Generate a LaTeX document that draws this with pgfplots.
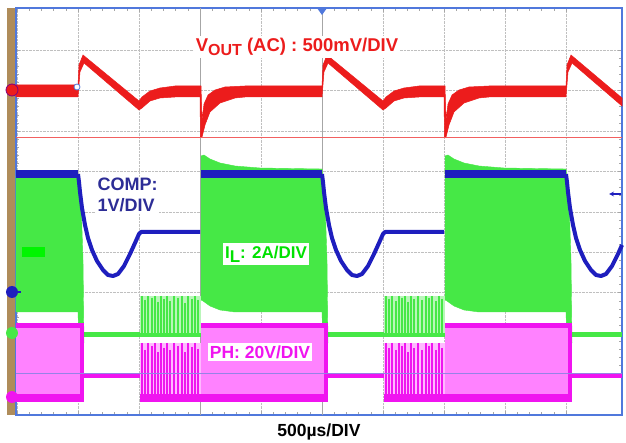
\documentclass[border=0pt]{standalone}
\usepackage{pgfplots}
\pgfplotsset{compat=1.18}
\usepackage{fontspec}
\setmainfont{Liberation Sans}

\definecolor{vred}{RGB}{236,28,28}
\definecolor{cblue}{RGB}{30,30,190}
\definecolor{clab}{RGB}{45,45,150}
\definecolor{ilg}{RGB}{70,232,70}
\definecolor{iltext}{RGB}{0,225,0}
\definecolor{ilbox}{RGB}{0,245,0}
\definecolor{ilglight}{RGB}{185,246,185}
\definecolor{phm}{RGB}{240,20,240}
\definecolor{phpink}{RGB}{255,130,255}
\definecolor{phlight}{RGB}{255,185,255}
\definecolor{frameblue}{RGB}{80,120,220}
\definecolor{strip}{RGB}{175,140,90}
\definecolor{cursorp}{RGB}{150,130,230}

\begin{document}
\begin{tikzpicture}
% page = 626 x 443, axis box 606 x 407 at (0,0)
\path[use as bounding box] (-16pt,-28pt) rectangle (610pt,415pt);
\fill[strip] (-9pt,0pt) rectangle (-1pt,407pt);

\begin{axis}[
    scale only axis,
    width=606pt, height=407pt,
    xmin=16, xmax=622, ymin=8, ymax=415,
    y dir=reverse,
    clip=false,
    axis background/.style={fill=white},
    xtick={17,78,139,200,261,322,383,444,505,566},
    ytick={50.05,90.5,130.95,171.4,211.85,252.3,292.75,333.2,373.65},
    xticklabels={}, yticklabels={},
    minor x tick num=4, minor y tick num=4,
    grid=major,
    major grid style={densely dotted, gray!50, line width=0.5pt},
    tick align=inside, xtick pos=both, ytick pos=both,
    major tick length=4pt, minor tick length=3pt,
    tick style={gray!70, line width=0.5pt},
    axis line style={draw=frameblue, line width=1.2pt},
    unbounded coords=jump,
]

% cursors behind the traces
\addplot[gray!70, line width=0.6pt] coordinates {(200,8) (200,415)};
\addplot[gray!70, line width=0.6pt] coordinates {(322,8) (322,415)};

% VOUT (AC) envelope
\addplot[fill=vred, draw=vred, line width=0.5pt] coordinates {
  (16,85) (78,85) (79,65) (83,55) (139,101) (142,97) (150,91) (160,88) (175,86)
  (201,86) (202,120) (204,104) (208,95) (215,90) (225,87) (245,86)
  (322,86) (323,65) (327,55) (383,101) (386,97) (394,91) (404,88) (419,86)
  (445,86) (446,120) (448,104) (452,95) (459,90) (469,87) (489,86)
  (566,86) (567,65) (571,55) (622,98)
  (622,106) (572,63) (568,72) (566,97)
  (489,97) (479,98) (464,103) (454,112) (449,125) (446,137) (444.5,137) (444,97)
  (419,97) (404,98) (394,101) (386,108) (383,110) (328,63) (324,72) (322,97)
  (245,97) (235,98) (220,103) (210,112) (205,125) (202,137) (200.5,137) (200,97)
  (175,97) (160,98) (150,101) (142,108) (139,110) (84,63) (80,72) (78,97) (16,97)
} -- cycle;

% IL high-load envelopes
\addplot[fill=ilg, draw=ilg, line width=0.4pt] coordinates {
  (16,176) (78,176) (81,200) (83,260) (84,343) (79,343) (78,312) (16,312)
} -- cycle;
\addplot[fill=ilg, draw=ilg, line width=0.4pt] coordinates {
  (201,300) (201,156) (204,155) (210,159) (220,163) (235,166) (260,168) (322,169)
  (325,200) (327,260) (328,343) (323,343) (322,312) (235,312) (220,310) (210,306) (203,301)
} -- cycle;
\addplot[fill=ilg, draw=ilg, line width=0.4pt] coordinates {
  (445,300) (445,156) (448,155) (454,159) (464,163) (479,166) (504,168) (566,169)
  (569,200) (571,260) (572,343) (567,343) (566,312) (479,312) (464,310) (454,306) (447,301)
} -- cycle;
% IL at zero (DCM)
\addplot[ilg, line width=5pt] coordinates {
  (84,335) (201,335) (201,nan) (328,335) (445,335) (445,nan) (572,335) (622,335)
};
% IL bursts
\addplot[fill=ilglight, draw=none] coordinates {(140,296) (201,296) (201,333) (140,333)} -- cycle;
\addplot[fill=ilglight, draw=none] coordinates {(384,296) (445,296) (445,333) (384,333)} -- cycle;
\addplot[ilg, line width=1.3pt] coordinates {
  (142,296) (142,336) (142,nan) (145,300) (145,336) (145,nan) (148,296) (148,336) (148,nan)
  (152,298) (152,336) (152,nan) (155,296) (155,336) (155,nan) (158,302) (158,336) (158,nan)
  (161,296) (161,336) (161,nan) (164,299) (164,336) (164,nan) (167,296) (167,336) (167,nan)
  (170,301) (170,336) (170,nan) (174,296) (174,336) (174,nan) (178,298) (178,336) (178,nan)
  (182,296) (182,336) (182,nan) (185,303) (185,336) (185,nan) (188,296) (188,336) (188,nan)
  (192,299) (192,336) (192,nan) (195,296) (195,336) (195,nan) (198,300) (198,336) (198,nan)
  (386,296) (386,336) (386,nan) (389,299) (389,336) (389,nan) (392,296) (392,336) (392,nan)
  (396,301) (396,336) (396,nan) (399,296) (399,336) (399,nan) (402,298) (402,336) (402,nan)
  (405,296) (405,336) (405,nan) (408,302) (408,336) (408,nan) (411,296) (411,336) (411,nan)
  (414,299) (414,336) (414,nan) (418,296) (418,336) (418,nan) (422,300) (422,336) (422,nan)
  (426,296) (426,336) (426,nan) (429,298) (429,336) (429,nan) (432,296) (432,336) (432,nan)
  (436,301) (436,336) (436,nan) (439,296) (439,336) (439,nan) (442,299) (442,336)
};

% PH high-load blocks
\addplot[fill=phpink, draw=none] coordinates {(16,323) (84,323) (84,402) (16,402)} -- cycle;
\addplot[fill=phpink, draw=none] coordinates {(201,323) (328,323) (328,402) (201,402)} -- cycle;
\addplot[fill=phpink, draw=none] coordinates {(445,323) (572,323) (572,402) (445,402)} -- cycle;
\addplot[phm, line width=5pt] coordinates {
  (16,325.5) (84,325.5) (84,nan) (201,325.5) (328,325.5) (328,nan) (445,325.5) (572,325.5)
};
\addplot[phm, line width=8pt] coordinates {
  (16,398) (84,398) (84,nan) (201,398) (328,398) (328,nan) (445,398) (572,398)
};
\addplot[phm, line width=4pt] coordinates {
  (81.5,323) (81.5,402) (81.5,nan) (325.5,323) (325.5,402) (325.5,nan) (569.5,323) (569.5,402)
};
% PH at rest
\addplot[phm, line width=5pt] coordinates {
  (84,375) (140,375) (140,nan) (328,375) (384,375) (384,nan) (572,375) (622,375)
};
% PH bursts
\addplot[fill=phlight, draw=none] coordinates {(140,343) (201,343) (201,400) (140,400)} -- cycle;
\addplot[fill=phlight, draw=none] coordinates {(384,343) (445,343) (445,400) (384,400)} -- cycle;
\addplot[phm, line width=8pt] coordinates {
  (140,398) (201,398) (201,nan) (384,398) (445,398)
};
\addplot[phm, line width=1.3pt] coordinates {
  (142,343) (142,400) (142,nan) (145,350) (145,400) (145,nan) (148,343) (148,400) (148,nan)
  (152,346) (152,400) (152,nan) (155,343) (155,400) (155,nan) (158,352) (158,400) (158,nan)
  (161,343) (161,400) (161,nan) (164,348) (164,400) (164,nan) (167,343) (167,400) (167,nan)
  (170,350) (170,400) (170,nan) (174,343) (174,400) (174,nan) (178,346) (178,400) (178,nan)
  (182,343) (182,400) (182,nan) (185,352) (185,400) (185,nan) (188,343) (188,400) (188,nan)
  (192,347) (192,400) (192,nan) (195,343) (195,400) (195,nan) (198,349) (198,400) (198,nan)
  (386,343) (386,400) (386,nan) (389,348) (389,400) (389,nan) (392,343) (392,400) (392,nan)
  (396,350) (396,400) (396,nan) (399,343) (399,400) (399,nan) (402,346) (402,400) (402,nan)
  (405,343) (405,400) (405,nan) (408,352) (408,400) (408,nan) (411,343) (411,400) (411,nan)
  (414,348) (414,400) (414,nan) (418,343) (418,400) (418,nan) (422,350) (422,400) (422,nan)
  (426,343) (426,400) (426,nan) (429,346) (429,400) (429,nan) (432,343) (432,400) (432,nan)
  (436,350) (436,400) (436,nan) (439,343) (439,400) (439,nan) (442,348) (442,400)
};

% COMP
\addplot[fill=cblue, draw=none] coordinates {(16,170) (78,170) (78,178) (16,178)} -- cycle;
\addplot[fill=cblue, draw=none] coordinates {(201,170) (322,170) (322,178) (201,178)} -- cycle;
\addplot[fill=cblue, draw=none] coordinates {(445,170) (566,170) (566,178) (445,178)} -- cycle;
\addplot[cblue, line width=4pt, line join=round] coordinates {
  (78,174) (79,182) (80,192) (82,208) (85,225) (88,238) (92,250) (97,261) (103,270)
  (108,275) (113,276) (118,274) (124,266) (130,254) (135,243) (139,234) (141,232) (200,232)
};
\addplot[cblue, line width=4pt, line join=round] coordinates {
  (322,174) (323,182) (324,192) (326,208) (329,225) (332,238) (336,250) (341,261) (347,270)
  (352,275) (357,276) (362,274) (368,266) (374,254) (379,243) (383,234) (385,232) (444,232)
};
\addplot[cblue, line width=4pt, line join=round] coordinates {
  (566,174) (567,182) (568,192) (570,208) (573,225) (576,238) (580,250) (585,261) (591,270)
  (596,275) (601,276) (606,274) (612,266) (618,254) (622,245)
};

% horizontal cursors
\addplot[vred!70, line width=0.7pt] coordinates {(16,137) (622,137)};
\addplot[cursorp, line width=0.7pt] coordinates {(16,373.5) (622,373.5)};

% labels
\node[fill=white, inner sep=2pt, text=vred, font=\bfseries\fontsize{18.5}{20}\selectfont]
  at (axis cs:297,47) {V\raisebox{-4.5pt}{\fontsize{16}{16}\selectfont OUT} (AC) : 500mV/DIV};
\node[fill=white, inner sep=1.5pt, text=clab, anchor=west, align=left,
  font=\bfseries\fontsize{18}{21}\selectfont] at (axis cs:96,195) {COMP:\\1V/DIV};
\node[fill=white, inner sep=2.5pt, text=iltext, font=\bfseries\fontsize{17}{19}\selectfont]
  at (axis cs:266,254) {I\raisebox{-4pt}{L}: 2A/DIV};
\node[fill=white, inner sep=2pt, text=phm, font=\bfseries\fontsize{17.5}{19}\selectfont]
  at (axis cs:260,352) {PH: 20V/DIV};
\node[text=black, font=\bfseries\fontsize{17.5}{19}\selectfont] at (axis cs:319,432) {500µs/DIV};

% scope markers
\fill[ilbox] (axis cs:22,247) rectangle (axis cs:45,257);
\node[circle, fill=vred, draw=violet, line width=0.8pt, inner sep=0pt, minimum size=12pt] at (axis cs:12,90) {};
\node[circle, fill=cblue, inner sep=0pt, minimum size=12pt] at (axis cs:12,292) {};
\draw[cblue, line width=1.2pt] (axis cs:17,292) -- (axis cs:21,292);
\node[circle, fill=ilg, inner sep=0pt, minimum size=12pt] at (axis cs:12,333) {};
\node[circle, fill=phm, inner sep=0pt, minimum size=12pt] at (axis cs:12,397) {};
\node[circle, draw=frameblue, fill=white, line width=0.8pt, inner sep=0pt, minimum size=6pt] at (axis cs:77,87) {};
\fill[frameblue] (axis cs:317,8) -- (axis cs:327,8) -- (axis cs:322,15) -- cycle;
\draw[cblue, line width=1.2pt, -stealth] (axis cs:621,194) -- (axis cs:609,194);
\end{axis}
\end{tikzpicture}
\end{document}
